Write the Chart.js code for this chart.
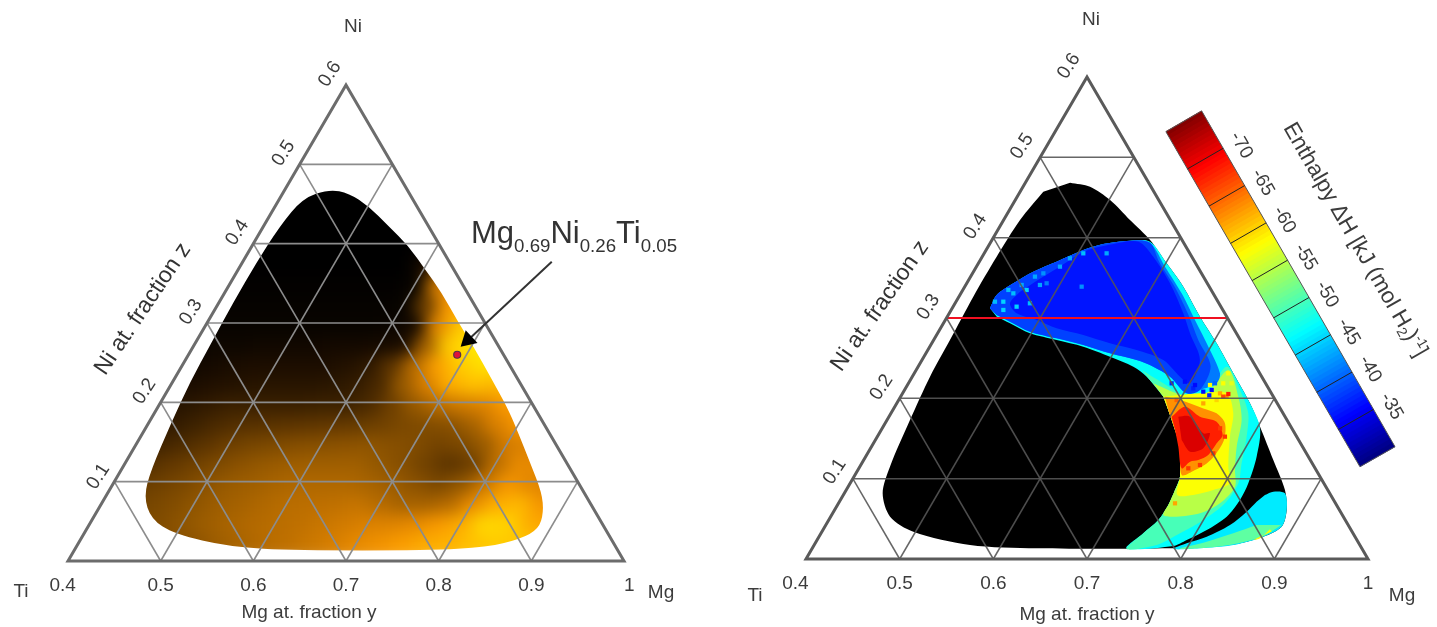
<!DOCTYPE html>
<html><head><meta charset="utf-8">
<script src="https://cdn.jsdelivr.net/npm/chart.js@4/dist/chart.umd.min.js"></script>
<style>html,body{margin:0;background:#fff;overflow:hidden}canvas{position:absolute;top:0;filter:blur(.55px)}</style>
</head><body>
<canvas id="left" width="718" height="627" style="left:0"></canvas>
<canvas id="right" width="719" height="627" style="left:718px"></canvas>
<script>
// ---------- axes ----------
const mgTicks=[0.4,0.5,0.6,0.7,0.8,0.9,1];
const niTicks=[0.1,0.2,0.3,0.4,0.5];
const niLabels=['0.1','0.2','0.3','0.4','0.5','0.6'];
const enthalpyTicks=[-70,-65,-60,-55,-50,-45,-40,-35];
const enthalpyRange=[-75,-30];
// ---------- measured composition (Mg fraction, Ni fraction) ----------
const outline=[[.4477,.4685],[.4715,.4635],[.5012,.4469],[.5349,.422],[.5688,.3971],[.6011,.368],[.6333,.339],[.6698,.3017],[.7042,.2685],[.7407,.2311],[.7771,.1938],[.8024,.1647],[.8373,.1232],[.8684,.0859],[.8827,.061],[.8877,.0402],[.8744,.0278],[.844,.0174],[.782,.0133],[.6397,.0133],[.5664,.0174],[.4976,.034],[.4634,.0527],[.441,.0817],[.4322,.1149],[.4245,.173],[.4189,.227],[.4174,.2726],[.4153,.3266],[.4154,.3763],[.4175,.422],[.4247,.4573]];
const markerPoint=[.69,.26];
const arrowTail=[.7334,.3773], arrowTip=[.6898,.2723], arrowHead=[.6923,.2786];
// reflectance read on a ternary lattice: row k has Ni=k*0.025, column j has Mg=0.4+j*0.025
const heatStep=0.025;
const heatRows=[
[.42,.42,.42,.42,.42,.43,.46,.52,.55,.59,.63,.66,.71,.75,.79,.83,.86,.89,.92,.93,.9,.88],
[.42,.42,.42,.42,.42,.44,.49,.53,.57,.6,.64,.68,.73,.77,.81,.85,.87,.91,.93,.92,.9],
[.4,.4,.4,.41,.45,.49,.53,.56,.58,.6,.63,.66,.69,.7,.73,.79,.85,.96,.95,.85,.82,.8],
[.37,.37,.38,.41,.45,.49,.52,.55,.58,.59,.6,.62,.57,.52,.52,.57,.74,.85,.88,.78,.75],
[.32,.33,.36,.39,.44,.48,.5,.53,.55,.55,.55,.53,.49,.44,.39,.46,.63,.78,.72,.68,.65],
[.27,.28,.32,.36,.4,.44,.47,.49,.5,.5,.5,.46,.42,.36,.3,.35,.58,.73,.72,.7],
[.2,.22,.26,.3,.35,.38,.4,.42,.43,.44,.45,.43,.41,.37,.39,.48,.66,.7,.7],
[.15,.17,.21,.25,.28,.29,.3,.31,.32,.33,.36,.39,.41,.43,.52,.68,.78,.78],
[.12,.14,.17,.2,.2,.2,.2,.21,.21,.25,.35,.47,.58,.65,.7,.8,.8],
[.09,.1,.12,.13,.14,.14,.14,.15,.18,.25,.48,.68,.85,.9,.88,.85],
[.06,.07,.09,.1,.1,.1,.1,.12,.16,.3,.58,.82,.93,.98,.98],
[.04,.05,.05,.06,.06,.06,.07,.07,.08,.1,.5,.93,1,1],
[.03,.03,.03,.03,.03,.03,.03,.03,.04,.07,.72,.92,.95],
[.02,.02,.02,.02,.02,.02,.02,.02,.03,.35,.8,.85],
[.01,.01,.01,.01,.01,.01,.01,.01,.03,.68,.72],
[0,0,0,0,0,0,0,0,.1,.6],
[0,0,0,0,0,0,0,0,0],
[0,0,0,0,0,0,0,0],
[0,0,0,0,0,0,0],
[0,0,0,0,0]];
// enthalpy regions (kJ per mol H2)
const mainRegion=[[.4404,.312],[.4393,.3286],[.4498,.3432],[.4639,.3577],[.4825,.3701],[.5038,.3846],[.5213,.3921],[.5478,.3963],[.5698,.395],[.6011,.368],[.6333,.339],[.6698,.3017],[.7042,.2685],[.7407,.2311],[.7771,.1938],[.8034,.1627],[.8174,.1274],[.8251,.0942],[.8266,.0734],[.8228,.0527],[.8098,.0361],[.7946,.0237],[.7841,.0162],[.7357,.0133],[.7441,.032],[.7519,.0485],[.7532,.0672],[.751,.0859],[.748,.1025],[.7294,.1398],[.7137,.1606],[.694,.1855],[.6805,.2021],[.6502,.227],[.6298,.2394],[.5986,.2519],[.5639,.2643],[.5313,.2726],[.4986,.2809],[.4711,.2934],[.4528,.3017]];
const mainH=-47;
const azureRegion=[[.4404,.312],[.4393,.3286],[.4498,.3432],[.4639,.3577],[.4825,.3701],[.5038,.3846],[.5213,.3921],[.5478,.3963],[.5704,.3938],[.6013,.3639],[.6357,.3307],[.6665,.2975],[.6974,.2643],[.7264,.2311],[.729,.2187],[.7154,.2104],[.7033,.2062],[.6751,.227],[.6511,.2394],[.6291,.2477],[.5966,.256],[.5629,.2664],[.5302,.2747],[.4976,.283],[.4701,.2954],[.4517,.3037]];
const azureH=-41;
const midBlueRegion=[[.4404,.312],[.4393,.3286],[.4498,.3432],[.4639,.3577],[.4825,.3701],[.5038,.3846],[.5213,.3921],[.5478,.3963],[.5704,.3938],[.592,.37],[.626,.337],[.658,.302],[.683,.272],[.712,.24],[.7154,.2104],[.7033,.2062],[.6751,.227],[.6511,.2394],[.6291,.2477],[.5966,.256],[.5629,.2664],[.5302,.2747],[.4976,.283],[.4701,.2954],[.4517,.3037]];
const midBlueH=-38.5;
const blueRegion=[[.4747,.3482],[.4877,.3627],[.5069,.3834],[.5312,.3917],[.5575,.395],[.5826,.3763],[.617,.3432],[.6499,.3058],[.6695,.2809],[.6967,.2477],[.7006,.2187],[.6858,.227],[.6576,.2477],[.6229,.2602],[.5903,.2685],[.5567,.2788],[.524,.2871],[.4975,.2975],[.472,.3058],[.4586,.3183],[.4621,.3328]];
const blueH=-36.5;
const greenRegion=[[.6408,.2352],[.6721,.2187],[.7053,.2021],[.7247,.2062],[.7294,.2394],[.7581,.2104],[.7815,.1813],[.7943,.1523],[.8055,.1191],[.8145,.0942],[.8126,.0693],[.7999,.0486],[.7833,.032],[.7657,.0174],[.7361,.0124],[.7441,.032],[.7519,.0485],[.7532,.0672],[.751,.0859],[.748,.1025],[.7294,.1398],[.7137,.1606],[.694,.1855],[.6805,.2021]];
const greenH=-50;
const limeRegion=[[.6614,.2187],[.7053,.2021],[.7247,.2062],[.7333,.2353],[.7605,.2021],[.7786,.173],[.7899,.1398],[.8026,.1108],[.813,.09],[.8073,.0693],[.7922,.0568],[.7693,.0527],[.7541,.0548],[.7532,.0672],[.751,.0859],[.748,.1025],[.7294,.1398],[.7137,.1606],[.694,.1855],[.6805,.2021]];
const limeH=-55;
const yellowRegion=[[.6805,.2021],[.7175,.2062],[.746,.2062],[.7655,.1813],[.7765,.1523],[.7934,.1149],[.8056,.0942],[.7919,.0859],[.7736,.0797],[.7565,.0797],[.748,.1025],[.7294,.1398],[.7137,.1606],[.694,.1855]];
const yellowH=-58;
const orangeRegion=[[.6822,.2021],[.7003,.1979],[.7304,.1875],[.7477,.1813],[.7628,.1689],[.7722,.1481],[.772,.1294],[.7683,.119],[.7599,.1108],[.7488,.1046],[.7294,.1398],[.7137,.1606],[.694,.1855]];
const orangeH=-63;
const redRegion=[[.7018,.1772],[.7098,.1896],[.732,.1772],[.7529,.1709],[.7676,.1544],[.7664,.144],[.7647,.1295],[.7573,.1232],[.7494,.1212],[.7446,.1129],[.7276,.1398],[.7137,.1606]];
const redH=-68;
const deepRedRegion=[[.7089,.1772],[.7214,.1772],[.746,.1564],[.7531,.1564],[.7553,.1378],[.7432,.1336],[.727,.1481]];
const deepRedH=-71;
const cornerRegion=[[.8501,.0797],[.857,.0838],[.8705,.0817],[.8827,.061],[.8877,.0402],[.8744,.0278],[.8475,.0174],[.8139,.0133],[.786,.0124],[.7966,.0195],[.8139,.0278],[.8315,.0423],[.841,.0589],[.8454,.0714]];
const cornerH=-46;
const cornerGreen=[[.8866,.0423],[.874,.0286],[.847,.0183],[.8139,.0133],[.7928,.0129],[.817,.0216],[.8402,.032],[.8599,.0423]];
const cornerGreenH=-51;
const cornerYellow=[[.8801,.0342],[.8658,.0237],[.8719,.0257],[.8769,.0369]];
const cornerYellowH=-58;
const speckMg=[.4687,.456,.4681,.4792,.4892,.5248,.5307,.5058,.4678,.4505,.4799,.4946,.4416,.4486,.4557,.4597,.4756,.4853,.72,.7279,.7073,.681,.6942,.707,.7287,.7273,.7389,.748,.7394,.7273,.6967,.7353,.745,.7361,.723,.7444,.7482,.7607,.7711,.7691,.7621,.7517,.7593];
const speckNi=[.3515,.3307,.3349,.3411,.3639,.339,.3805,.3805,.3141,.3203,.3183,.3743,.3203,.3349,.31,.3411,.3556,.3432,.2083,.2104,.2124,.2187,.2207,.2166,.2037,.2187,.2062,.2021,.1979,.1937,.1979,.2311,.2187,.2187,.2166,.2021,.2054,.1627,.1523,.1315,.117,.1129,.0693];
const speckH=[-43,-44,-45,-43,-43,-42,-43,-44,-45,-45,-44,-43,-44,-44,-45,-43,-42,-41,-36,-36,-37,-37,-36,-36,-37,-40,-62,-63,-60,-62,-65,-58,-57,-58,-58,-66,-68,-67,-67,-67,-67,-67,-62];
const redLineNi=0.3;
// colour bar placement in chart units (Mg, Ni), ends at enthalpyRange
const barStartA=[.5183,.5319], barStartB=[.5436,.5577], barEndA=[.9339,.1149], barEndB=[.9589,.1398];

// ---------- helpers ----------
const FONT='"Liberation Sans",Arial,sans-serif', INK='#3c3c3c';
const tern=(mg,ni)=>({x:mg+ni/2,y:ni});
const jet=H=>{const t=(enthalpyRange[1]-H)/(enthalpyRange[1]-enthalpyRange[0]);const c=v=>Math.round(255*Math.max(0,Math.min(1,v)));
  return `rgb(${c(1.5-Math.abs(4*t-3))},${c(1.5-Math.abs(4*t-2))},${c(1.5-Math.abs(4*t-1))})`;};
const stops=['#000000','#1c0d00','#3a2000','#5c3400','#7e4a00','#a05f00','#bf7000','#de8300','#fb9a00','#ffbe00','#ffe800'];
const hexRGB=h=>[1,3,5].map(i=>parseInt(h.substr(i,2),16));
const amber=v=>{const p=Math.min(9.999,v*10),i=Math.floor(p),a=hexRGB(stops[i]),b=hexRGB(stops[i+1]),f=p-i;
  return `rgb(${a.map((c,n)=>Math.round(c+(b[n]-c)*f)).join(',')})`;};
const poly=(pairs,color)=>({type:'line',data:pairs.map(p=>tern(p[0],p[1])),fill:'shape',backgroundColor:color,borderWidth:0,borderColor:color,pointRadius:0,tension:.3,clip:false});
const seg=(a,b,color,w)=>({type:'line',data:[tern(a[0],a[1]),tern(b[0],b[1])],fill:false,borderColor:color,borderWidth:w,pointRadius:0,tension:0,clip:false});
function gridSets(color,w){
  const s=[];
  niTicks.forEach(z=>s.push(seg([.4,z],[1-z,z],color,w)));
  mgTicks.slice(1,-1).forEach(y=>{s.push(seg([y,0],[y,1-y],color,w));s.push(seg([y,0],[.4,y-.4],color,w));});
  return s;
}
function frameSet(color){return {type:'line',data:[tern(.4,0),tern(1,0),tern(.4,.6),tern(.4,0),tern(1,0)],fill:false,borderColor:color,borderWidth:3,pointRadius:0,tension:0,clip:false,borderJoinStyle:'miter'};}
function outlinePath(chart,ctx){
  const X=chart.scales.x,Y=chart.scales.y;
  const p=outline.map(o=>[X.getPixelForValue(o[0]+o[1]/2),Y.getPixelForValue(o[1])]);
  ctx.beginPath();
  const n=p.length,mid=(a,b)=>[(a[0]+b[0])/2,(a[1]+b[1])/2];
  let m=mid(p[n-1],p[0]);ctx.moveTo(m[0],m[1]);
  for(let i=0;i<n;i++){m=mid(p[i],p[(i+1)%n]);ctx.quadraticCurveTo(p[i][0],p[i][1],m[0],m[1]);}
  ctx.closePath();
}
const heatSmooth={id:'heatSmooth',afterDatasetDraw(chart,args){
  if(!chart.data.datasets[args.index].isHeat)return;
  const c=chart.canvas,t=document.createElement('canvas');t.width=c.width;t.height=c.height;
  t.getContext('2d').drawImage(c,0,0);
  const ctx=chart.ctx,a=chart.chartArea;
  ctx.save();ctx.clearRect(a.left-2,a.top-2,a.width+4,a.height+4);
  outlinePath(chart,ctx);ctx.clip();
  ctx.filter='blur(8px)';ctx.drawImage(t,0,0);ctx.filter='none';ctx.restore();
}};
function rot(ctx,text,x,y,deg,size,color){ctx.save();ctx.translate(x,y);ctx.rotate(deg*Math.PI/180);ctx.font=`${size}px ${FONT}`;ctx.fillStyle=color||INK;ctx.textAlign='center';ctx.textBaseline='middle';ctx.fillText(text,0,0);ctx.restore();}
function build(id,datasets,pad,axisH,titleCfg,tickLabel,drawText){
  datasets.forEach((d,i)=>d.order=datasets.length-i);
  return new Chart(document.getElementById(id),{type:'line',
    data:{datasets},
    options:{responsive:false,animation:false,events:[],normalized:false,
      layout:{padding:{left:pad.left,right:pad.right,top:pad.top,bottom:0}},
      plugins:{legend:{display:false},tooltip:{enabled:false},title:{display:false}},
      scales:{
        y:{type:'linear',min:0,max:.6,display:false},
        x:{type:'linear',min:.4,max:1,
          afterBuildTicks:s=>{s.ticks=mgTicks.map(v=>({value:v}));},
          afterFit:s=>{s.height=axisH;},
          grid:{display:false},border:{display:false},
          ticks:{autoSkip:false,maxRotation:0,padding:5,color:INK,font:{family:FONT,size:19},callback:tickLabel},
          title:titleCfg}
      }},
    plugins:[heatSmooth,{id:'labels',afterDraw(chart){drawText(chart,chart.ctx,chart.scales.x,chart.scales.y);}}]
  });
}
// ---------- left panel ----------
const heatData=[],heatColors=[];
heatRows.forEach((row,k)=>row.forEach((v,j)=>{heatData.push(tern(.4+j*heatStep,k*heatStep));heatColors.push(amber(v));}));
const leftSets=[
  {type:'scatter',isHeat:true,data:heatData,pointStyle:'rect',pointRadius:18,pointBackgroundColor:heatColors,pointBorderWidth:0,showLine:false},
  ...gridSets('#8c8c8c',1.6),
  frameSet('#6c6c6c'),
  seg(arrowTail,arrowTip,'#333',2),
  {type:'scatter',data:[tern(arrowHead[0],arrowHead[1])],pointStyle:'triangle',pointRadius:10,pointRotation:227,pointBackgroundColor:'#000',pointBorderWidth:0,clip:false,showLine:false},
  {type:'scatter',data:[tern(markerPoint[0],markerPoint[1])],pointStyle:'circle',pointRadius:3.5,pointBackgroundColor:'#e0103a',pointBorderColor:'#55304a',pointBorderWidth:1.2,clip:false,showLine:false}
];
build('left',leftSets,{left:68,right:94,top:85},66,{display:false},
  v=>v===1?'  1':(v===.4?'0.4  ':Number(v).toFixed(1)),
  (chart,ctx,X,Y)=>{
  const edgeX=z=>X.getPixelForValue(.4+z/2), edgeY=z=>Y.getPixelForValue(z);
  niLabels.forEach((t,i)=>{const z=(i+1)/10;rot(ctx,t,edgeX(z)-16,edgeY(z)-(i?11:5),-57,19);});
  rot(ctx,'Ni at. fraction z',143,309,-56,23,'#333');
  rot(ctx,'Mg at. fraction y',309,613,0,19);
  rot(ctx,'Ni',353,27,0,19);rot(ctx,'Ti',21,592,0,19);rot(ctx,'Mg',661,593,0,19);
  ctx.save();ctx.fillStyle='#333';ctx.textBaseline='alphabetic';ctx.textAlign='left';
  let x=471;[['Mg',31,243],['0.69',18.7,252],['Ni',31,243],['0.26',18.7,252],['Ti',31,243],['0.05',18.7,252]].forEach(p=>{
    ctx.font=`${p[1]}px ${FONT}`;ctx.fillText(p[0],x,p[2]);x+=ctx.measureText(p[0]).width;});
  ctx.restore();
});
// ---------- right panel ----------
const mix=(a,b,t)=>[a[0]+(b[0]-a[0])*t,a[1]+(b[1]-a[1])*t];
const barAt=(H,side)=>{const t=(H-enthalpyRange[0])/(enthalpyRange[1]-enthalpyRange[0]);return side?mix(barStartB,barEndB,t):mix(barStartA,barEndA,t);};
const barSets=[];
for(let H=enthalpyRange[0]+.25;H<enthalpyRange[1];H+=.5)barSets.push(seg(barAt(H,0),barAt(H,1),jet(H),5.2));
const barFrame={type:'line',data:[barStartA,barStartB,barEndB,barEndA,barStartA].map(p=>tern(p[0],p[1])),fill:false,borderColor:'#555',borderWidth:1,pointRadius:0,tension:0,clip:false};
const rightSets=[
  poly(outline,'#000'),
  poly(mainRegion,jet(mainH)),
  poly(greenRegion,jet(greenH)),
  poly(limeRegion,jet(limeH)),
  poly(yellowRegion,jet(yellowH)),
  poly(orangeRegion,jet(orangeH)),
  poly(redRegion,jet(redH)),
  poly(deepRedRegion,jet(deepRedH)),
  poly(azureRegion,jet(azureH)),
  poly(midBlueRegion,jet(midBlueH)),
  poly(blueRegion,jet(blueH)),
  poly(cornerRegion,jet(cornerH)),
  poly(cornerGreen,jet(cornerGreenH)),
  poly(cornerYellow,jet(cornerYellowH)),
  {type:'scatter',data:speckMg.map((m,i)=>tern(m,speckNi[i])),pointStyle:'rect',pointRadius:3,pointBackgroundColor:speckH.map(jet),pointBorderWidth:0,showLine:false},
  ...gridSets('rgba(85,85,85,.9)',1.5),
  seg([.4,redLineNi],[1-redLineNi,redLineNi],'#f01020',2),
  frameSet('#5a5a5a'),
  ...barSets,
  barFrame,
  ...enthalpyTicks.map(H=>seg(barAt(H,0),barAt(H,1),'#222',1))
];
build('right',rightSets,{left:88,right:69,top:77},68,
  {display:true,text:'Mg at. fraction y',color:INK,font:{family:FONT,size:19},padding:{top:0,bottom:1}},
  v=>v===1?'1':(v===.4?'0.4    ':Number(v).toFixed(1)),
  (chart,ctx,X,Y)=>{
  const O=718;
  const edgeX=z=>X.getPixelForValue(.4+z/2), edgeY=z=>Y.getPixelForValue(z);
  niLabels.forEach((t,i)=>{const z=(i+1)/10;rot(ctx,t,edgeX(z)-18,edgeY(z)-(i?11:7),-57,19);});
  rot(ctx,'Ni at. fraction z',880-O,306,-55,23,'#333');
  rot(ctx,'Ni',1091-O,20,0,19);rot(ctx,'Ti',755-O,596,0,19);rot(ctx,'Mg',1402-O,596,0,19);
  enthalpyTicks.forEach(H=>{const p=barAt(H,1);rot(ctx,String(H),X.getPixelForValue(p[0]+p[1]/2)+18,Y.getPixelForValue(p[1])-3,60,19);});
  // colour bar title, with sub- and superscript
  ctx.save();ctx.translate(1355-O,240);ctx.rotate(60*Math.PI/180);ctx.fillStyle=INK;ctx.textBaseline='middle';ctx.textAlign='left';
  const parts=[['Enthalpy \u0394H [kJ (mol H',22.5,0],['2',14,6],[')',22.5,0],['-1',14,-6],[']',22.5,0]];
  let tot=0;parts.forEach(p=>{ctx.font=`${p[1]}px ${FONT}`;tot+=ctx.measureText(p[0]).width;});
  let x=-tot/2;parts.forEach(p=>{ctx.font=`${p[1]}px ${FONT}`;ctx.fillText(p[0],x,p[2]);x+=ctx.measureText(p[0]).width;});
  ctx.restore();
});
</script>
</body></html>
